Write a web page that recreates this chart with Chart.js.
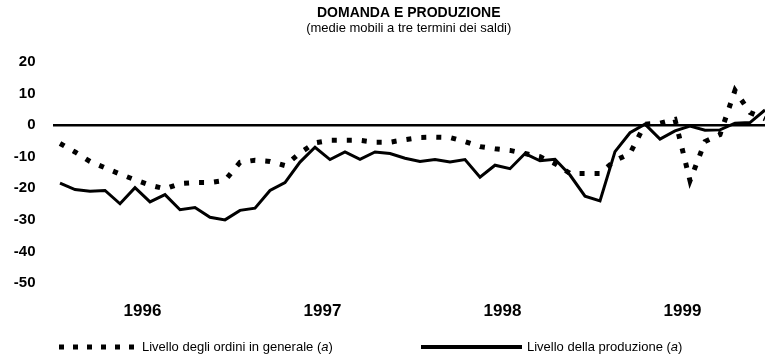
<!DOCTYPE html>
<html>
<head>
  <meta charset="UTF-8">
  <title>Domanda e produzione</title>
  <script src="https://cdn.jsdelivr.net/npm/chart.js"></script>
  <style>
    html, body { margin: 0; padding: 0; background: #fff; }
    #wrap { width: 765px; height: 361px; }
  </style>
</head>
<body>
<div id="wrap"><canvas id="chart" width="765" height="361"></canvas></div>

<script>
  // monthly values, Jan 1996 .. Dec 1999
  const years = ['1996', '1997', '1998', '1999'];

  const ordini = [
    -5.8, -8.5, -11.5, -13.5, -15.5, -17.3, -19.0, -20.2, -18.5, -18.2, -18.2, -17.5,
    -11.8, -11.1, -11.5, -12.8, -8.8, -5.6, -4.8, -4.8, -4.8, -5.4, -5.4, -4.6,
    -3.9, -3.8, -3.9, -5.2, -6.8, -7.5, -8.0, -9.0, -10.0, -12.2, -15.3, -15.3,
    -15.3, -11.2, -9.0, 0.3, 0.6, 1.8, -17.6, -5.2, -3.0, 11.0, 4.0, 2.0
  ];

  const produzione = [
    -18.4, -20.4, -20.9, -20.7, -24.9, -19.8, -24.3, -22.0, -26.8, -26.1, -29.2, -30.0,
    -27.0, -26.3, -20.7, -18.2, -11.7, -7.0, -10.9, -8.5, -10.8, -8.5, -9.0, -10.5,
    -11.5, -10.9, -11.7, -10.9, -16.5, -12.7, -13.8, -9.0, -11.3, -10.8, -15.8, -22.5,
    -24.0, -8.4, -2.4, 0.3, -4.4, -1.8, -0.3, -1.6, -1.5, 0.6, 0.8, 4.8
  ];

  const yTicks = [20, 10, 0, -10, -20, -30, -40, -50];

  const FONT = '"Liberation Sans", Arial, sans-serif';
  const DOT = [5, 10];

  const toPoints = arr => arr.map((v, i) => ({ x: i, y: v }));

  // title, subtitle and legend are painted straight onto the canvas
  const decorations = {
    id: 'decorations',
    afterDraw(chart) {
      const ctx = chart.ctx;
      const area = chart.chartArea;
      const cx = (area.left + area.right) / 2;
      ctx.save();
      ctx.fillStyle = '#000';
      ctx.textAlign = 'center';
      ctx.textBaseline = 'middle';
      ctx.font = 'bold 14px ' + FONT;
      ctx.fillText('DOMANDA E PRODUZIONE', cx, 13);
      ctx.font = '13px ' + FONT;
      ctx.fillText('(medie mobili a tre termini dei saldi)', cx, 28);

      const ly = 347;
      ctx.textAlign = 'left';
      ctx.strokeStyle = '#000';

      // dotted sample
      ctx.lineWidth = 5;
      ctx.setLineDash([5, 9]);
      ctx.beginPath();
      ctx.moveTo(59, ly);
      ctx.lineTo(135, ly);
      ctx.stroke();

      // solid sample
      ctx.setLineDash([]);
      ctx.lineWidth = 4;
      ctx.beginPath();
      ctx.moveTo(421, ly);
      ctx.lineTo(522, ly);
      ctx.stroke();

      const label = (x, before) => {
        ctx.font = '13px ' + FONT;
        ctx.fillText(before, x, ly);
        let w = ctx.measureText(before).width;
        ctx.font = 'italic 13px ' + FONT;
        ctx.fillText('a', x + w, ly);
        w += ctx.measureText('a').width;
        ctx.font = '13px ' + FONT;
        ctx.fillText(')', x + w, ly);
      };
      label(142, 'Livello degli ordini in generale (');
      label(527, 'Livello della produzione (');
      ctx.restore();
    }
  };

  new Chart(document.getElementById('chart'), {
    type: 'line',
    data: {
      datasets: [
        {
          label: 'Livello degli ordini in generale (a)',
          data: toPoints(ordini),
          borderColor: '#000',
          borderWidth: 5,
          borderDash: DOT,
          borderCapStyle: 'butt',
          pointRadius: 0,
          tension: 0,
          fill: false
        },
        {
          label: 'Livello della produzione (a)',
          data: toPoints(produzione),
          borderColor: '#000',
          borderWidth: 3,
          borderJoinStyle: 'miter',
          pointRadius: 0,
          tension: 0,
          fill: false
        }
      ]
    },
    options: {
      responsive: false,
      animation: false,
      layout: { padding: { top: 62, right: 0, bottom: 0, left: 0 } },
      plugins: {
        legend: { display: false },
        tooltip: { enabled: false }
      },
      scales: {
        x: {
          type: 'linear',
          min: -0.5,
          max: 47,
          grid: { display: false },
          border: { display: false },
          afterBuildTicks: s => { s.ticks = years.map((y, i) => ({ value: i * 12 + 5.5 })); },
          afterFit: s => { s.height = 78; },
          ticks: {
            autoSkip: false,
            maxRotation: 0,
            padding: 10,
            color: '#000',
            font: { family: FONT, size: 17, weight: 'bold' },
            callback: (v, i) => years[i]
          }
        },
        y: {
          min: -50,
          max: 20,
          afterBuildTicks: s => { s.ticks = yTicks.map(v => ({ value: v })); },
          afterFit: s => { s.width = 52.5; },
          border: { display: false },
          grid: {
            drawTicks: false,
            lineWidth: 2.5,
            color: c => (c.tick && c.tick.value === 0 ? '#000' : 'rgba(0,0,0,0)')
          },
          ticks: {
            padding: 17,
            color: '#000',
            font: { family: FONT, size: 15, weight: 'bold' }
          }
        }
      }
    },
    plugins: [decorations]
  });
</script>
</body>
</html>
